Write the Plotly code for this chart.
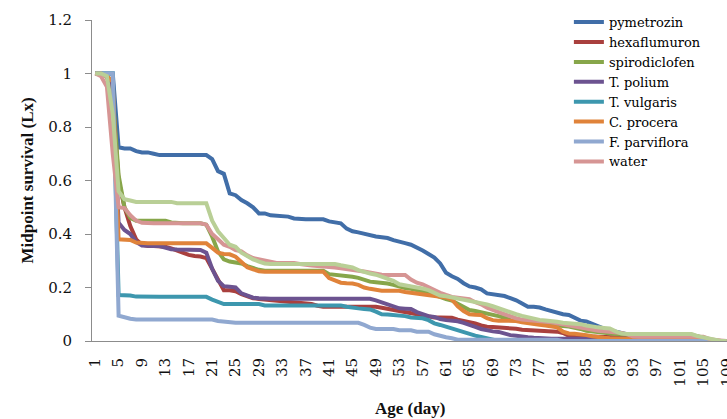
import plotly.graph_objects as go

days = list(range(1, 110))
tick_days = list(range(1, 110, 4))
tick_labels = [str(d) for d in tick_days]

pymetrozin = [
    1, 1, 1, 1, 0.724, 0.72, 0.72, 0.71, 0.705, 0.705,
    0.70, 0.695, 0.695, 0.695, 0.695, 0.695, 0.695, 0.695, 0.695, 0.695,
    0.68, 0.635, 0.625, 0.552, 0.545, 0.527, 0.515, 0.5, 0.477, 0.477,
    0.47, 0.468, 0.465, 0.465, 0.458, 0.455, 0.455, 0.455, 0.455, 0.455,
    0.447, 0.444, 0.44, 0.42, 0.41, 0.406, 0.4, 0.395, 0.391, 0.388,
    0.385, 0.377, 0.37, 0.366, 0.36, 0.35, 0.338, 0.325, 0.312, 0.29,
    0.255, 0.242, 0.232, 0.216, 0.204, 0.2, 0.193, 0.178, 0.175, 0.173,
    0.168, 0.16, 0.152, 0.14, 0.128, 0.128, 0.125, 0.118, 0.112, 0.105,
    0.1, 0.097, 0.085, 0.076, 0.073, 0.063, 0.055, 0.046, 0.04, 0.035,
    0.028, 0.022, 0.02, 0.02, 0.02, 0.02, 0.02, 0.02, 0.02, 0.02,
    0.02, 0.02, 0.02, 0.015, 0.008, 0.003, 0, 0, 0]

hexaflumuron = [
    1, 1, 0.99, 0.9, 0.6, 0.5, 0.43, 0.38, 0.36, 0.355,
    0.355, 0.355, 0.352, 0.346, 0.338, 0.328, 0.322, 0.318, 0.316, 0.31,
    0.272, 0.227, 0.19, 0.19, 0.186, 0.175, 0.168, 0.16, 0.157, 0.155,
    0.153, 0.15, 0.148, 0.147, 0.147, 0.145, 0.142, 0.138, 0.132, 0.128,
    0.128, 0.128, 0.128, 0.128, 0.128, 0.128, 0.128, 0.128, 0.128, 0.124,
    0.12, 0.115, 0.112, 0.109, 0.103, 0.1, 0.095, 0.091, 0.088, 0.088,
    0.087, 0.087, 0.08, 0.076, 0.072, 0.066, 0.058, 0.053, 0.052, 0.051,
    0.051, 0.05, 0.046, 0.042, 0.041, 0.04, 0.039, 0.038, 0.036, 0.035,
    0.03, 0.02, 0.019, 0.018, 0.017, 0.016, 0.016, 0.015, 0.015, 0.013,
    0.012, 0.012, 0.01, 0.01, 0.01, 0.01, 0.01, 0.01, 0.01, 0.01,
    0.008, 0.007, 0.006, 0.005, 0.005, 0.003, 0, 0, 0]

spirodiclofen = [
    1, 1, 0.99, 0.92, 0.62, 0.5, 0.46, 0.45, 0.45, 0.45,
    0.45, 0.45, 0.45, 0.443, 0.44, 0.44, 0.44, 0.44, 0.44, 0.435,
    0.39, 0.335, 0.305, 0.297, 0.294, 0.29, 0.28, 0.272, 0.266, 0.263,
    0.263, 0.263, 0.263, 0.263, 0.263, 0.263, 0.263, 0.263, 0.263, 0.263,
    0.25, 0.248, 0.245, 0.243, 0.24, 0.236, 0.228, 0.222, 0.22, 0.218,
    0.215, 0.21, 0.202, 0.198, 0.195, 0.19, 0.188, 0.18, 0.172, 0.163,
    0.157, 0.151, 0.14, 0.128, 0.116, 0.112, 0.108, 0.104, 0.097, 0.093,
    0.087, 0.078, 0.077, 0.076, 0.072, 0.068, 0.065, 0.062, 0.06, 0.058,
    0.056, 0.054, 0.051, 0.045, 0.038, 0.035, 0.032, 0.03, 0.028, 0.026,
    0.024, 0.022, 0.022, 0.022, 0.022, 0.022, 0.022, 0.022, 0.022, 0.022,
    0.022, 0.022, 0.022, 0.018, 0.013, 0.006, 0, 0, 0]

t_polium = [
    1, 1, 0.99, 0.93, 0.442, 0.415, 0.4, 0.37, 0.357, 0.355,
    0.355, 0.355, 0.35, 0.343, 0.342, 0.341, 0.34, 0.34, 0.34, 0.33,
    0.27, 0.225, 0.205, 0.203, 0.2, 0.178, 0.168, 0.162, 0.16, 0.158,
    0.158, 0.158, 0.158, 0.158, 0.158, 0.158, 0.158, 0.158, 0.158, 0.158,
    0.158, 0.158, 0.158, 0.158, 0.158, 0.158, 0.158, 0.158, 0.152, 0.145,
    0.138, 0.128, 0.122, 0.121, 0.12, 0.108, 0.1, 0.093, 0.09, 0.082,
    0.078, 0.077, 0.074, 0.068, 0.062, 0.053, 0.045, 0.04, 0.036, 0.034,
    0.028, 0.022, 0.02, 0.016, 0.014, 0.012, 0.01, 0.008, 0.008, 0.008,
    0.008, 0.008, 0.008, 0.008, 0.008, 0.008, 0.008, 0.008, 0.008, 0.008,
    0.008, 0.008, 0.008, 0.008, 0.008, 0.008, 0.008, 0.008, 0.008, 0.008,
    0.008, 0.008, 0.008, 0.008, 0.004, 0, 0, 0, 0]

t_vulgaris = [
    1, 1, 1, 1, 0.172, 0.172, 0.17, 0.166, 0.165, 0.165,
    0.165, 0.165, 0.165, 0.165, 0.165, 0.165, 0.165, 0.165, 0.165, 0.165,
    0.155, 0.145, 0.138, 0.138, 0.138, 0.138, 0.138, 0.138, 0.138, 0.133,
    0.133, 0.133, 0.133, 0.133, 0.133, 0.133, 0.133, 0.133, 0.133, 0.133,
    0.133, 0.133, 0.133, 0.128, 0.124, 0.122, 0.12, 0.118, 0.11, 0.1,
    0.099, 0.098, 0.097, 0.093, 0.088, 0.086, 0.085, 0.078, 0.066, 0.06,
    0.053, 0.047, 0.04, 0.034, 0.028, 0.02, 0.015, 0.01, 0.005, 0,
    0, 0, 0, 0, 0, 0, 0, 0, 0, 0,
    0, 0, 0, 0, 0, 0, 0, 0, 0, 0,
    0, 0, 0, 0, 0, 0, 0, 0, 0, 0,
    0, 0, 0, 0, 0, 0, 0, 0, 0]

c_procera = [
    1, 1, 0.99, 0.97, 0.38, 0.38, 0.378, 0.368, 0.365, 0.365,
    0.365, 0.365, 0.365, 0.365, 0.365, 0.365, 0.365, 0.365, 0.365, 0.365,
    0.348, 0.33, 0.325, 0.324, 0.315, 0.295, 0.276, 0.268, 0.261, 0.259,
    0.259, 0.259, 0.259, 0.259, 0.259, 0.259, 0.259, 0.259, 0.259, 0.259,
    0.235, 0.225, 0.218, 0.216, 0.215, 0.21, 0.2, 0.195, 0.19, 0.188,
    0.188, 0.188, 0.188, 0.183, 0.18, 0.177, 0.174, 0.17, 0.166, 0.165,
    0.163, 0.155, 0.13, 0.112, 0.1, 0.098, 0.097, 0.085, 0.078, 0.076,
    0.076, 0.076, 0.075, 0.07, 0.066, 0.064, 0.061, 0.058, 0.055, 0.051,
    0.035, 0.028, 0.027, 0.026, 0.022, 0.018, 0.014, 0.012, 0.01, 0.008,
    0.008, 0.008, 0.008, 0.008, 0.008, 0.008, 0.008, 0.008, 0.008, 0.008,
    0.008, 0.008, 0.008, 0.008, 0.008, 0.004, 0, 0, 0]

f_parviflora = [
    1, 1, 1, 1, 0.095, 0.088, 0.083, 0.08, 0.08, 0.08,
    0.08, 0.08, 0.08, 0.08, 0.08, 0.08, 0.08, 0.08, 0.08, 0.08,
    0.08, 0.075, 0.072, 0.068, 0.068, 0.068, 0.068, 0.068, 0.068, 0.068,
    0.068, 0.068, 0.068, 0.068, 0.068, 0.068, 0.068, 0.068, 0.068, 0.068,
    0.068, 0.068, 0.068, 0.068, 0.068, 0.068, 0.06, 0.05, 0.045, 0.045,
    0.045, 0.045, 0.04, 0.04, 0.04, 0.035, 0.035, 0.035, 0.025, 0.018,
    0.014, 0.01, 0.005, 0.005, 0.005, 0.005, 0.005, 0.005, 0.005, 0.005,
    0.005, 0.005, 0.005, 0.005, 0.005, 0.005, 0.005, 0.005, 0.005, 0.005,
    0, 0, 0, 0, 0, 0, 0, 0, 0, 0,
    0, 0, 0, 0, 0, 0, 0, 0, 0, 0,
    0, 0, 0, 0, 0, 0, 0, 0, 0]

water = [
    1, 0.99, 0.95, 0.7, 0.5, 0.497, 0.47, 0.45, 0.442, 0.44,
    0.44, 0.44, 0.44, 0.44, 0.44, 0.44, 0.44, 0.44, 0.44, 0.435,
    0.4, 0.38, 0.36, 0.352, 0.34, 0.335, 0.32, 0.31, 0.305, 0.3,
    0.297, 0.292, 0.292, 0.292, 0.292, 0.288, 0.284, 0.282, 0.28, 0.279,
    0.278, 0.275, 0.272, 0.268, 0.265, 0.263, 0.26, 0.255, 0.25, 0.248,
    0.247, 0.247, 0.247, 0.247, 0.23, 0.218, 0.212, 0.2, 0.192, 0.18,
    0.172, 0.165, 0.162, 0.16, 0.156, 0.145, 0.137, 0.125, 0.115, 0.108,
    0.1, 0.092, 0.085, 0.08, 0.078, 0.077, 0.076, 0.075, 0.07, 0.066,
    0.062, 0.058, 0.054, 0.05, 0.043, 0.04, 0.038, 0.036, 0.035, 0.034,
    0.03, 0.025, 0.017, 0.016, 0.016, 0.016, 0.016, 0.016, 0.016, 0.016,
    0.016, 0.016, 0.016, 0.016, 0.016, 0.008, 0.003, 0, 0]

series9 = [
    1, 1, 0.99, 0.85, 0.56, 0.53, 0.525, 0.52, 0.52, 0.52,
    0.52, 0.52, 0.52, 0.52, 0.515, 0.515, 0.515, 0.515, 0.515, 0.515,
    0.45, 0.41, 0.385, 0.36, 0.352, 0.33, 0.318, 0.305, 0.297, 0.29,
    0.288, 0.288, 0.288, 0.288, 0.288, 0.288, 0.288, 0.288, 0.288, 0.288,
    0.288, 0.288, 0.283, 0.278, 0.275, 0.265, 0.258, 0.252, 0.248, 0.24,
    0.233, 0.225, 0.212, 0.207, 0.202, 0.2, 0.196, 0.19, 0.18, 0.17,
    0.167, 0.163, 0.158, 0.154, 0.15, 0.147, 0.142, 0.137, 0.13, 0.122,
    0.115, 0.106, 0.1, 0.094, 0.088, 0.082, 0.079, 0.077, 0.076, 0.072,
    0.068, 0.067, 0.066, 0.063, 0.058, 0.053, 0.051, 0.049, 0.047, 0.036,
    0.028, 0.026, 0.026, 0.026, 0.026, 0.026, 0.026, 0.026, 0.026, 0.026,
    0.026, 0.026, 0.026, 0.018, 0.014, 0.012, 0.005, 0, 0]

series = [
    ("pymetrozin", pymetrozin, "#416EA8", True),
    ("hexaflumuron", hexaflumuron, "#A9403E", True),
    ("spirodiclofen", spirodiclofen, "#87A64A", True),
    ("T. polium", t_polium, "#6C5390", True),
    ("T. vulgaris", t_vulgaris, "#3D97AE", True),
    ("C. procera", c_procera, "#E0833A", True),
    ("F. parviflora", f_parviflora, "#90A8D0", True),
    ("water", water, "#D69594", True),
    ("series 9", series9, "#B9CF96", False),
]

SERIF = "Liberation Serif"
WIDE = "DejaVu Serif"

fig = go.Figure()
for name, vals, color, show in series:
    fig.add_trace(go.Scatter(
        x=days, y=vals, mode="lines", name=name,
        line=dict(color=color, width=4),
        showlegend=show, hoverinfo="skip",
    ))

fig.update_layout(
    width=727, height=419,
    margin=dict(l=92, r=0, t=20, b=78, autoexpand=False),
    paper_bgcolor="white", plot_bgcolor="white",
    font=dict(family=WIDE, size=14, color="#111"),
    hovermode=False,
    legend=dict(
        x=0.751, y=1.04, xanchor="left", yanchor="top",
        bgcolor="rgba(0,0,0,0)", font=dict(family=WIDE, size=13, color="#000"),
        tracegroupgap=0,
    ),
    xaxis=dict(
        range=[0.45, 109.05], automargin=False,
        tickmode="array", tickvals=tick_days, ticktext=tick_labels,
        tickangle=-90, tickfont=dict(family=WIDE, size=15, color="#111"),
        ticklabeloverflow="allow",
        showgrid=False, zeroline=False,
        showline=True, linecolor="#8C8C8C", linewidth=1,
        ticks="", ticklabelstandoff=10,
    ),
    yaxis=dict(
        range=[0, 1.2], automargin=False,
        tickvals=[0, 0.2, 0.4, 0.6, 0.8, 1, 1.2],
        ticktext=["0", "0.2", "0.4", "0.6", "0.8", "1", "1.2"],
        showgrid=False, zeroline=False,
        showline=True, linecolor="#8C8C8C", linewidth=1,
        ticks="outside", ticklen=6, tickcolor="#8C8C8C",
        tickfont=dict(family=WIDE, size=15, color="#111"),
        ticklabelstandoff=10,
    ),
    annotations=[
        dict(text="<b>Midpoint survival (Lx)</b>", xref="paper", yref="paper",
             x=-0.1008, y=0.5, xanchor="center", yanchor="middle", textangle=-90,
             showarrow=False, font=dict(family=SERIF, size=17, color="#111")),
        dict(text="<b>Age (day)</b>", xref="paper", yref="paper",
             x=0.5, y=-0.209, xanchor="center", yanchor="middle",
             showarrow=False, font=dict(family=SERIF, size=17, color="#111")),
    ],
)

fig.write_html("out.html", config={"displayModeBar": False},
               post_script="document.body.style.margin='0';")
